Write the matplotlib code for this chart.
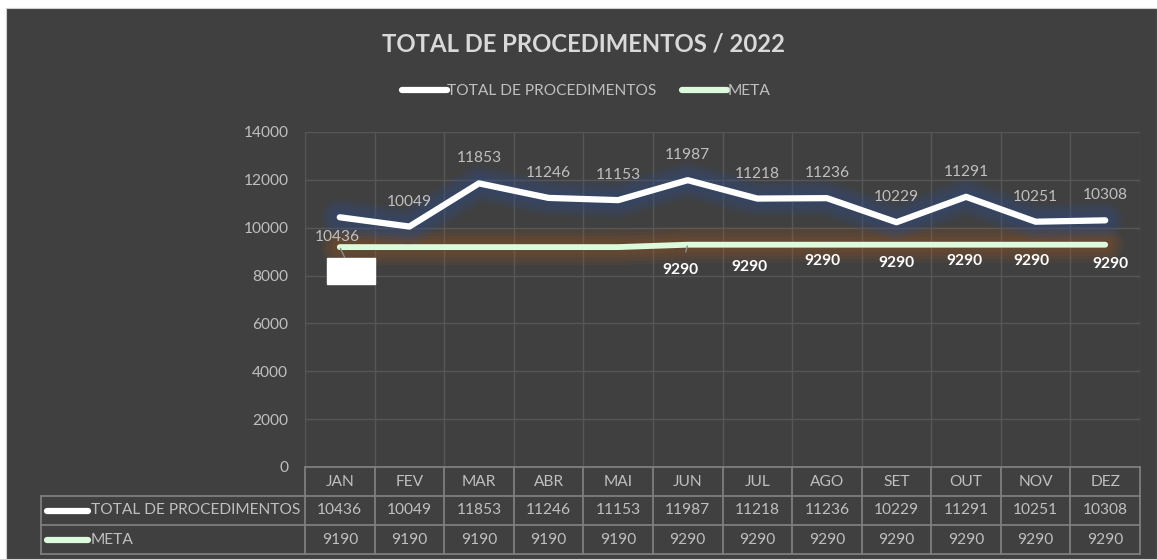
import matplotlib
matplotlib.use("Agg")
import matplotlib.pyplot as plt
import matplotlib.patheffects as pe
from matplotlib.lines import Line2D
from matplotlib.patches import Rectangle
import matplotlib.transforms as mtransforms

# ---------------- data ----------------
months = ["JAN", "FEV", "MAR", "ABR", "MAI", "JUN", "JUL", "AGO", "SET", "OUT", "NOV", "DEZ"]
total = [10436, 10049, 11853, 11246, 11153, 11987, 11218, 11236, 10229, 11291, 10251, 10308]
meta = [9190, 9190, 9190, 9190, 9190, 9290, 9290, 9290, 9290, 9290, 9290, 9290]
series_names = ["TOTAL DE PROCEDIMENTOS", "META"]
title = "TOTAL DE PROCEDIMENTOS / 2022"
yticks = [0, 2000, 4000, 6000, 8000, 10000, 12000, 14000]

# label offsets (points) - styling only
total_offsets = [(-2, -14)] + [(0, 18)] * 11
meta_offsets = [None, None, None, None, None, (-5, -18), (-6, -16), (-3, -12), (0, -13), (-1, -12), (-3, -12), (4, -14)]

# ---------------- style ----------------
W, H = 1157, 559
BG = "#404040"
GRID = "#575757"
TXT = "#bfbfbf"
WHITE = "#ffffff"
GREEN = "#dcfadc"
TABLE = "#7f7f7f"
FONT = "Lato"
FS = 11.2
plt.rcParams["font.family"] = [FONT, "DejaVu Sans"]


def fx(x):
    return x / W


def fy(y):
    return 1 - y / H


fig = plt.figure(figsize=(W / 100, H / 100), dpi=100)
fig.patch.set_facecolor("white")
fig.patches.append(Rectangle((fx(6), 0), 1 - fx(6), fy(8), transform=fig.transFigure,
                             facecolor=BG, edgecolor="#d0d0d0", linewidth=0.8, zorder=-5))

ax = fig.add_axes([fx(305), fy(467), (1140 - 305) / W, (467 - 132) / H])
ax.set_facecolor("none")
x = list(range(len(months)))
ax.set_xlim(-0.5, len(months) - 0.5)
ax.set_ylim(0, 14000)
ax.set_yticks(yticks)
ax.set_yticklabels([str(v) for v in yticks], color=TXT, fontsize=FS)
ax.tick_params(axis="y", length=0, pad=12)
ax.set_xticks([i - 0.5 for i in range(len(months) + 1)])
ax.set_xticklabels([])
ax.tick_params(axis="x", length=0)
ax.grid(True, color=GRID, linewidth=1.0)
for s in ax.spines.values():
    s.set_visible(False)
ax.set_axisbelow(True)

# soft glow effects
glow_total = [pe.Stroke(linewidth=w, foreground="#2f4f8f", alpha=0.13) for w in (26, 21, 16, 11)] + [pe.Normal()]
glow_meta = [pe.Stroke(linewidth=w, foreground="#b35e1e", alpha=0.09) for w in (26, 21, 16, 11)] + [pe.Normal()]

ax.plot(x, meta, color=GREEN, linewidth=4.2, solid_capstyle="round", solid_joinstyle="round",
        path_effects=glow_meta, zorder=3)
ax.plot(x, total, color=WHITE, linewidth=4.5, solid_capstyle="round", solid_joinstyle="round",
        path_effects=glow_total, zorder=4)

# total labels
for i, v in enumerate(total):
    ax.annotate(str(v), (i, v), xytext=total_offsets[i], textcoords="offset points",
                ha="center", va="center", color=TXT, fontsize=FS, zorder=6)

# meta labels
for i, v in enumerate(meta):
    off = meta_offsets[i]
    if off is None:
        continue
    kw = {}
    if i == 5:
        kw["arrowprops"] = dict(arrowstyle="-", color="#8c8c8c", lw=1.0, shrinkA=6, shrinkB=1)
    ax.annotate(str(v), (i, v), xytext=off, textcoords="offset points",
                ha="center", va="center", color=WHITE, fontsize=FS, fontweight="bold",
                zorder=6, **kw)

# JAN meta label shown as white box
ax.annotate(str(meta[0]), (0, meta[0]), xytext=(8, -17), textcoords="offset points",
            ha="center", va="center", color=WHITE, fontsize=FS, fontweight="bold",
            bbox=dict(boxstyle="square,pad=0.38", facecolor=WHITE, edgecolor=WHITE),
            arrowprops=dict(arrowstyle="-", color="#8c8c8c", lw=1.0, shrinkA=0, shrinkB=1),
            zorder=6)

# title
fig.text(fx(583), fy(44), title, ha="center", va="center", color="#d9d9d9",
         fontsize=17.2, fontweight="bold")

# legend
handles = [Line2D([], [], color=WHITE, linewidth=4.5, solid_capstyle="round"),
           Line2D([], [], color=GREEN, linewidth=4.5, solid_capstyle="round")]
leg = ax.legend(handles, series_names, loc="center", bbox_to_anchor=(fx(586), fy(91)),
                bbox_transform=fig.transFigure, ncol=2, frameon=False, handlelength=2.9,
                handletextpad=0.05, columnspacing=1.6, fontsize=FS, labelcolor=TXT)

# data table
bt = mtransforms.blended_transform_factory(ax.transData, fig.transFigure)
ft = fig.transFigure
lw_t = 1.3
row_y = [467, 496, 525, 554]
row_c = [481.5, 510.5, 539.5]
left_px = 41
ax.add_line(Line2D([-0.5, len(months) - 0.5], [fy(row_y[0])] * 2, transform=bt, color=TABLE,
                   lw=lw_t, clip_on=False))
for yy in row_y[1:]:
    fig.add_artist(Line2D([fx(left_px), fx(1140)], [fy(yy)] * 2, transform=ft, color=TABLE, lw=lw_t))
for i in range(len(months) + 1):
    ax.add_line(Line2D([i - 0.5, i - 0.5], [fy(row_y[0]), fy(row_y[3])], transform=bt,
                       color=TABLE, lw=lw_t, clip_on=False))
fig.add_artist(Line2D([fx(left_px)] * 2, [fy(row_y[1]), fy(row_y[3])], transform=ft, color=TABLE, lw=lw_t))

for i, m in enumerate(months):
    ax.text(i, fy(row_c[0]), m, transform=bt, ha="center", va="center", color=TXT, fontsize=FS)
    ax.text(i, fy(row_c[1]), str(total[i]), transform=bt, ha="center", va="center", color=TXT, fontsize=FS)
    ax.text(i, fy(row_c[2]), str(meta[i]), transform=bt, ha="center", va="center", color=TXT, fontsize=FS)

for name, col, yc in zip(series_names, [WHITE, GREEN], row_c[1:]):
    fig.add_artist(Line2D([fx(47), fx(88)], [fy(yc)] * 2, transform=ft, color=col, lw=4.5,
                          solid_capstyle="round"))
    fig.text(fx(91), fy(yc), name, ha="left", va="center", color=TXT, fontsize=FS)

fig.savefig("out.png", dpi=100, facecolor=fig.get_facecolor())
